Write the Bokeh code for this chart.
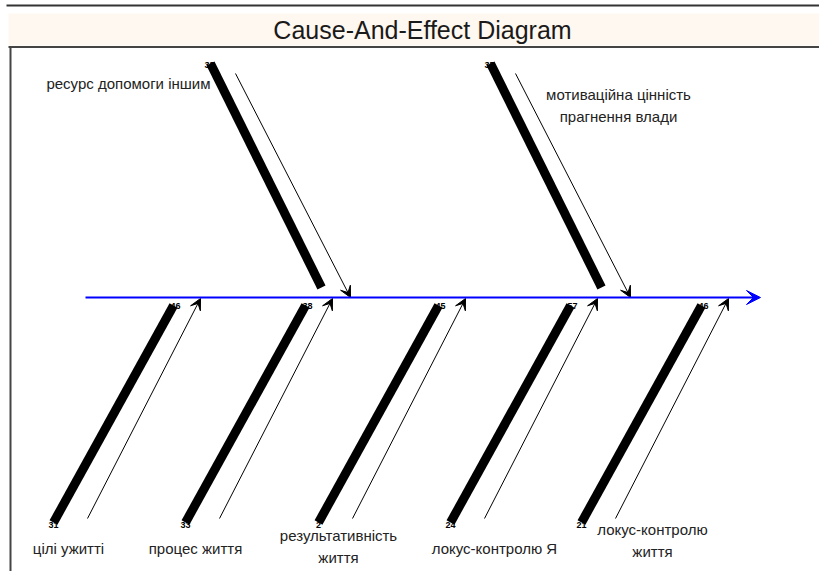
from bokeh.plotting import figure
from bokeh.models import Range1d, Arrow, VeeHead, ColumnDataSource
from bokeh.core.properties import value
from bokeh.embed import file_html
from bokeh.resources import INLINE

# ---------------- data ----------------
title = "Cause-And-Effect Diagram"

top_causes = ["ресурс допомоги іншим", "мотиваційна цінність\nпрагнення влади"]
top_tips = [350, 630]            # where each cause arrow meets the spine

bottom_causes = ["цілі ужитті", "процес життя", "результативність\nжиття",
                 "локус-контролю Я", "локус-контролю\nжиття"]
bottom_tips = [200, 332, 465, 597, 728]

bottom_end_codes = ["31", "33", "2", "24", "21"]
bottom_top_codes = ["46", "38", "45", "57", "46"]
top_end_codes = ["38", "35"]

spine_start, spine_end = 85, 760

# ---------------- layout ----------------
W, H = 819, 571
X0, Y0 = 0, 0
SPINE_Y = 297

p = figure(width=W, height=H, output_backend="svg", toolbar_location=None,
           x_range=Range1d(X0, X0 + W), y_range=Range1d(Y0 + H, Y0),
           min_border=0, outline_line_color=None)
p.xaxis.visible = False
p.yaxis.visible = False
p.xgrid.visible = False
p.ygrid.visible = False
p.background_fill_color = "white"
p.border_fill_color = "white"

# title band and frame
p.segment(x0=[6], y0=[5], x1=[X0 + W], y1=[5], line_color="#333333", line_width=2)
p.quad(left=[8], right=[X0 + W], top=[13], bottom=[45], fill_color="#FFF8F0", line_color=None)
p.segment(x0=[8], y0=[46.5], x1=[X0 + W], y1=[46.5], line_color="#444444", line_width=2)
p.segment(x0=[10], y0=[46], x1=[10], y1=[Y0 + H], line_color="#444444", line_width=2)
p.text(x=[422], y=[29], text=[title], text_align="center", text_baseline="middle",
       text_font=value("Liberation Sans"), text_font_size="25px", text_color="#1a1a1a")

font = value("Liberation Sans")
fs = "15px"
tc = "#222222"

# ---- upper bones ----
ut = ColumnDataSource(dict(
    tip=top_tips,
    ax0=[t - 115 for t in top_tips], ay0=[73] * len(top_tips),
    ax1=top_tips, ay1=[SPINE_Y] * len(top_tips),
    bx0=[t - 140 for t in top_tips], by0=[63] * len(top_tips),
    bx1=[t - 29 for t in top_tips], by1=[287] * len(top_tips),
    cx=[t - 141 for t in top_tips], cy=[64] * len(top_tips),
    code=top_end_codes,
))
p.segment(x0="bx0", y0="by0", x1="bx1", y1="by1", source=ut, line_color="black",
          line_width=9, line_cap="butt")
p.text(x="cx", y="cy", text="code", source=ut, text_align="center", text_baseline="middle",
       text_font=font, text_font_size="9px", text_font_style="bold", text_color="black")
p.add_layout(Arrow(end=VeeHead(size=11, fill_color="black", line_color="black", line_width=1),
                   x_start="ax0", y_start="ay0", x_end="ax1", y_end="ay1", source=ut,
                   line_color="black", line_width=1))

top_label_dx = [-140, -12]
top_label_y = [83, 105]
top_align = ["right", "center"]
for lab, t, dx, ly, al in zip(top_causes, top_tips, top_label_dx, top_label_y, top_align):
    p.text(x=[t + dx], y=[ly], text=[lab], text_align=al, text_baseline="middle",
           text_font=font, text_font_size=fs, text_color=tc, text_line_height=1.25)

# ---- lower bones ----
lb = ColumnDataSource(dict(
    tip=bottom_tips,
    ax0=[t - 113 for t in bottom_tips], ay0=[518] * len(bottom_tips),
    ax1=bottom_tips, ay1=[SPINE_Y + 1] * len(bottom_tips),
    bx0=[t - 147 for t in bottom_tips], by0=[522] * len(bottom_tips),
    bx1=[t - 27 for t in bottom_tips], by1=[305] * len(bottom_tips),
    cbx=[t - 147 for t in bottom_tips], cby=[524] * len(bottom_tips),
    ctx=[t - 25 for t in bottom_tips], cty=[305] * len(bottom_tips),
    codeb=bottom_end_codes, codet=bottom_top_codes,
))
p.segment(x0="bx0", y0="by0", x1="bx1", y1="by1", source=lb, line_color="black",
          line_width=9, line_cap="butt")
p.text(x="cbx", y="cby", text="codeb", source=lb, text_align="center", text_baseline="middle",
       text_font=font, text_font_size="9px", text_font_style="bold", text_color="black")
p.text(x="ctx", y="cty", text="codet", source=lb, text_align="center", text_baseline="middle",
       text_font=font, text_font_size="9px", text_font_style="bold", text_color="black")
p.add_layout(Arrow(end=VeeHead(size=11, fill_color="black", line_color="black", line_width=1),
                   x_start="ax0", y_start="ay0", x_end="ax1", y_end="ay1", source=lb,
                   line_color="black", line_width=1))

bottom_label_dx = [-132, -137, -127, -103, -76]
for lab, t, dx in zip(bottom_causes, bottom_tips, bottom_label_dx):
    ly = 548 if "\n" not in lab else (546 if t < 600 else 540)
    p.text(x=[t + dx], y=[ly], text=[lab], text_align="center", text_baseline="middle",
           text_font=font, text_font_size=fs, text_color=tc, text_line_height=1.25)

# ---- spine ----
p.add_layout(Arrow(end=VeeHead(size=14, fill_color="#0000FF", line_color="#0000FF", line_width=1),
                   x_start=spine_start, y_start=SPINE_Y, x_end=spine_end, y_end=SPINE_Y,
                   line_color="#0000FF", line_width=2))

open("out.html", "w").write(file_html(p, INLINE))
